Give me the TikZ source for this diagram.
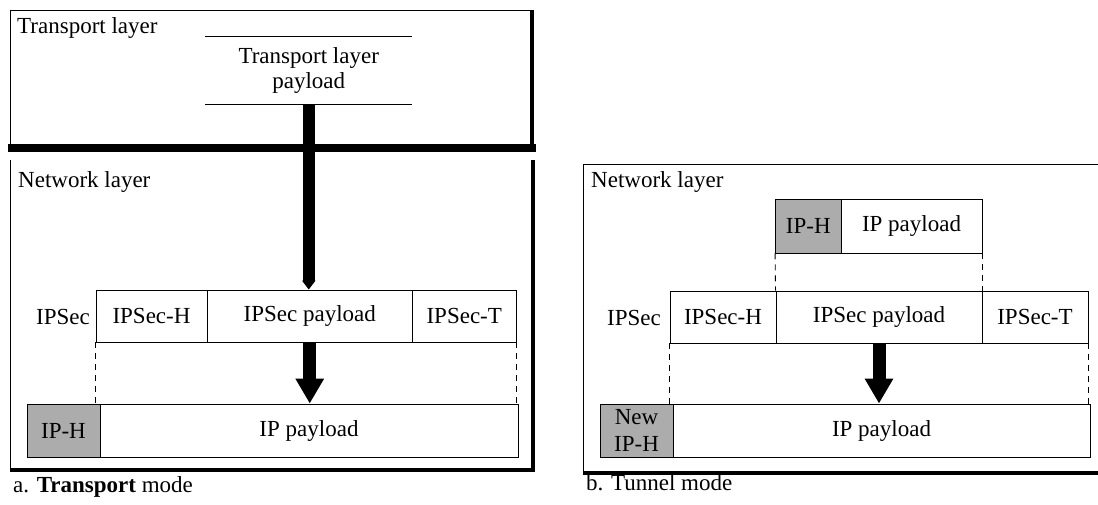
\documentclass[tikz,border=0pt]{standalone}
\usepackage{fontspec}
\setmainfont{Liberation Serif}
\usetikzlibrary{arrows.meta}
\begin{document}
\begin{tikzpicture}[x=1pt, y=-1pt, font=\fontsize{23}{25}\selectfont,
  txt/.style={inner sep=0pt},
  cell/.style={draw, line width=0.9pt, inner sep=0pt, minimum height=52pt},
  hdr/.style={cell, fill=gray!65},
  frame/.style={line width=0.9pt},
  heavy/.style={line width=4pt},
  feed/.style={line width=12pt, -{Triangle[width=13pt,length=9pt]}},
  flow/.style={line width=13pt, -{Triangle[width=27pt,length=25pt]}},
  link/.style={line width=0.9pt, dash pattern=on 6pt off 5pt}]
\useasboundingbox (0,0) rectangle (1098,504);
\draw[frame] (10,148) -- (10,10) -- (532,10);
\draw[heavy] (532,10) -- (532,148);
\draw[line width=8pt] (8,148) -- (536,148);
\draw[frame] (10.5,160) -- (10.5,470);
\draw[heavy] (533,160) -- (533,470) -- (10,470);
\node[txt, anchor=base west] (tl) at (17,33) {Transport layer};
\node[txt, anchor=base west] (nl) at (18,187) {Network layer};
\node[txt, align=center, minimum width=207pt, minimum height=67pt] (tpay) at (308.75,70.5) {Transport layer\\payload};
\draw[frame] (tpay.north west) -- (tpay.north east);
\draw[frame] (tpay.south west) -- (tpay.south east);
\node[txt, anchor=base east] (ipsecl) at (90,324) {IPSec};
\node[cell, minimum width=111pt] (ish) at (151.5,316) {IPSec-H};
\node[cell, minimum width=205.5pt] (ipl) at (309.75,316) {IPSec payload};
\node[cell, minimum width=103.5pt] (ist) at (464.25,316) {IPSec-T};
\node[hdr, minimum width=73pt, minimum height=53pt] (iph) at (63.5,430.5) {IP-H};
\node[cell, minimum width=418pt, minimum height=53pt] (ippay) at (309,430.5) {IP payload};
\draw[feed] (tpay.south) -- (tpay.south |- ipl.north);
\draw[flow] (ipl.south) -- (ipl.south |- ippay.north);
\draw[link] (ish.south west) -- (ish.south west |- ippay.north);
\draw[link] (ist.south east) -- (ist.south east |- ippay.north);
\node[txt, anchor=base west] (capa) at (13,492) {a. \textbf{Transport} mode};
\draw[frame] (1098,164) -- (583,164) -- (583,473);
\draw[heavy] (583,473) -- (1098,473);
\node[txt, anchor=base west] (nlr) at (591,187) {Network layer};
\node[hdr, minimum width=65.5pt, minimum height=54pt] (rih) at (808.25,226) {IP-H};
\node[cell, minimum width=141pt, minimum height=54pt] (rip) at (911.5,226) {IP payload};
\node[txt, anchor=base east] (ipsecr) at (661,325) {IPSec};
\node[cell, minimum width=106pt] (rsh) at (723,317) {IPSec-H};
\node[cell, minimum width=206pt] (rpl) at (879,317) {IPSec payload};
\node[cell, minimum width=106pt] (rst) at (1035,317) {IPSec-T};
\node[hdr, minimum width=73pt, minimum height=53pt, align=center, font=\fontsize{23}{27}\selectfont] (rnh) at (636.5,430.5) {New\\IP-H};
\node[cell, minimum width=417pt, minimum height=53pt] (rpay) at (881.5,430.5) {IP payload};
\draw[link] (rih.south west) -- (rpl.north west);
\draw[link] (rip.south east) -- (rpl.north east);
\draw[link] (rsh.south west) -- (rsh.south west |- rpay.north);
\draw[link] (rst.south east) -- (rst.south east |- rpay.north);
\draw[flow] (rpl.south) -- (rpl.south |- rpay.north);
\node[txt, anchor=base west] (capb) at (586,490) {b. Tunnel mode};
\end{tikzpicture}
\end{document}
